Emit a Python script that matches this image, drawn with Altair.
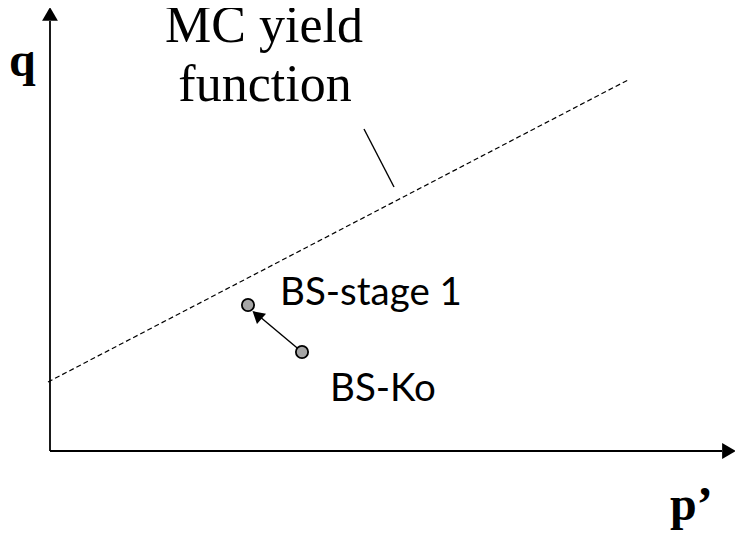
import altair as alt
import pandas as pd

# Schematic coordinates (p', q) in arbitrary units, origin at the axes corner
segment_names = ["q axis", "p axis", "MC yield function", "leader", "stress path"]
seg_x1 = [0, 0, -2, 314, 252]
seg_y1 = [0, 0, 69, 322, 99]
seg_x2 = [0, 672, 578, 344, 209]
seg_y2 = [430, 0, 371, 264, 135]

head_names = ["q arrow", "p arrow", "path arrow"]
head_x = [0, 679, 207]
head_y = [437, 0, 136]
head_shape = ["triangle-up", "triangle-right", "triangle-up"]
head_angle = [0, 0, 311]

point_names = ["BS-stage 1", "BS-Ko"]
point_x = [198, 252]
point_y = [146, 99]

label_text = ["BS-stage 1", "BS-Ko"]
label_x = [230, 280]
label_y = [146, 50]

title_text = ["MC yield", "function"]
title_x = [214, 215]
title_y = [409, 350]

axis_label_text = ["q", "p\u2019"]
axis_label_x = [-41, 620]
axis_label_y = [375, -69]

XD = [-42, 685]
YD = [-82, 443]

def X(f="x"):
    return alt.X(f"{f}:Q", scale=alt.Scale(domain=XD, nice=False, zero=False), axis=None)

def Y(f="y"):
    return alt.Y(f"{f}:Q", scale=alt.Scale(domain=YD, nice=False, zero=False), axis=None)

seg = pd.DataFrame({"name": segment_names, "x": seg_x1, "y": seg_y1, "x2": seg_x2, "y2": seg_y2})
heads = pd.DataFrame({"name": head_names, "x": head_x, "y": head_y, "shape": head_shape, "angle": head_angle})
pts = pd.DataFrame({"name": point_names, "x": point_x, "y": point_y})
labels = pd.DataFrame({"t": label_text, "x": label_x, "y": label_y})
titles = pd.DataFrame({"t": title_text, "x": title_x, "y": title_y})
axlab = pd.DataFrame({"t": axis_label_text, "x": axis_label_x, "y": axis_label_y})

axes_rules = alt.Chart(seg[seg["name"].isin(["q axis", "p axis"])]).mark_rule(
    color="black", strokeWidth=1.8
).encode(x=X(), y=Y(), x2="x2:Q", y2="y2:Q")

dashed = alt.Chart(seg[seg["name"] == "MC yield function"]).mark_rule(
    color="black", strokeWidth=1.2, strokeDash=[5, 3]
).encode(x=X(), y=Y(), x2="x2:Q", y2="y2:Q")

thin = alt.Chart(seg[seg["name"].isin(["leader", "stress path"])]).mark_rule(
    color="black", strokeWidth=1.4
).encode(x=X(), y=Y(), x2="x2:Q", y2="y2:Q")

axis_heads = alt.Chart(heads[heads["name"] != "path arrow"]).mark_point(
    filled=True, color="black", size=250, opacity=1
).encode(x=X(), y=Y(), shape=alt.Shape("shape:N", scale=None))

path_head = alt.Chart(heads[heads["name"] == "path arrow"]).mark_point(
    filled=True, color="black", size=190, opacity=1, shape="triangle-up"
).encode(x=X(), y=Y(), angle=alt.Angle("angle:Q", scale=None))

points = alt.Chart(pts).mark_point(
    filled=True, fill="#a6a6a6", stroke="black", strokeWidth=1.8, size=150, opacity=1, shape="circle"
).encode(x=X(), y=Y())

label_marks = alt.Chart(labels).mark_text(
    align="left", baseline="alphabetic", font="Lato", fontSize=38.5, color="black"
).encode(x=X(), y=Y(), text="t:N")

title_marks = alt.Chart(titles).mark_text(
    align="center", baseline="alphabetic", font="Liberation Serif", fontSize=52, color="black"
).encode(x=X(), y=Y(), text="t:N")

axlab_marks = alt.Chart(axlab).mark_text(
    align="left", baseline="alphabetic", font="Liberation Serif", fontSize=48, fontWeight="bold", color="black"
).encode(x=X(), y=Y(), text="t:N")

chart = alt.layer(
    dashed, axes_rules, thin, axis_heads, path_head, points, label_marks, title_marks, axlab_marks
).properties(
    width=727, height=525, autosize=alt.AutoSizeParams(type="none"), padding=0,
    background="white"
).configure_view(stroke=None)

chart.save("out.html", embed_options={"renderer": "svg", "actions": False})
